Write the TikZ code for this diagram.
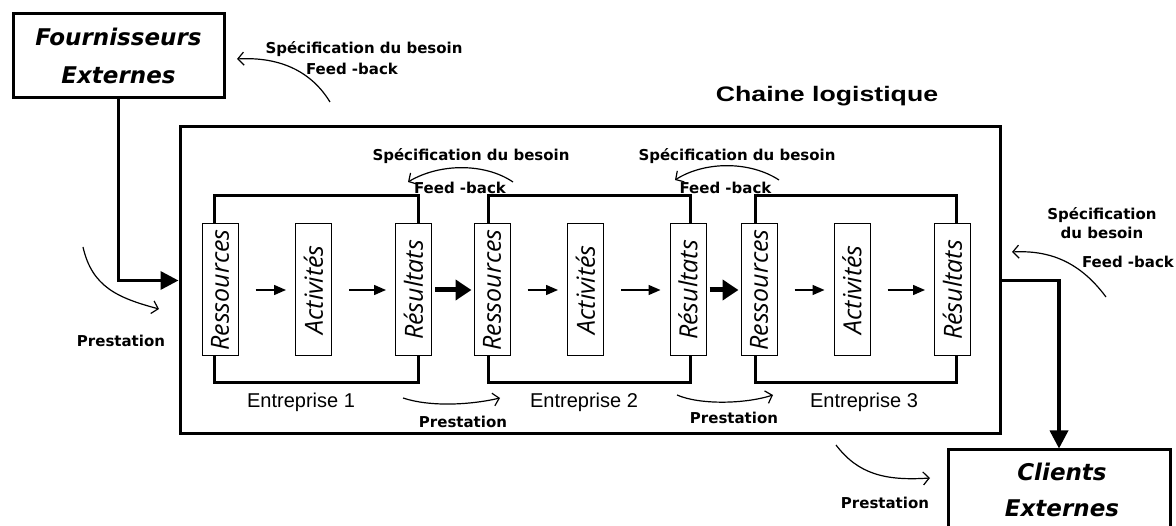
\documentclass[tikz,border=0pt]{standalone}
\usepackage{fontspec}
\usepackage{graphicx}
\setmainfont{Liberation Sans}
\newfontfamily\dvfont{DejaVu Sans}
\newfontfamily\osfont{Open Sans}
\usetikzlibrary{arrows.meta}
\begin{document}
\begin{tikzpicture}[x=1pt,y=-1pt,
  bigbox/.style={draw, line width=3pt, fill=white, inner sep=0pt},
  framebox/.style={draw, line width=3pt, inner sep=0pt, minimum height=187pt},
  cell/.style={draw, line width=1pt, fill=white, minimum width=36pt, minimum height=132pt, inner sep=0pt, font={\osfont\itshape\fontsize{25}{25}\selectfont}},
  lab/.style={font={\dvfont\bfseries\fontsize{15}{19}\selectfont}, inner sep=0pt, align=center},
  ent/.style={font={\fontsize{20}{24}\selectfont}, inner sep=0pt},
  bigtext/.style={font={\dvfont\bfseries\itshape\fontsize{23}{36}\selectfont}, align=center, inner sep=0pt},
  bigarrow/.style={line width=3.5pt, -{Triangle[length=18pt,width=18pt]}},
  midarrow/.style={line width=5pt, -{Triangle[length=16pt,width=20pt]}, shorten <=3pt, shorten >=2pt},
  smallarrow/.style={line width=1.5pt, -{Triangle[length=12pt,width=10pt]}, shorten <=17pt, shorten >=9pt},
  curvearrow/.style={line width=1.2pt, -{Straight Barb[length=6pt,width=13pt]}}
]
\useasboundingbox (0,0) rectangle (1176,526);
\fill[white] (0,0) rectangle (1176,526);

% external boxes
\node[bigbox, minimum width=211pt, minimum height=84pt, font={\dvfont\bfseries\itshape\fontsize{23}{38}\selectfont}, align=center] (fourn) at (118.5,56) {Fournisseurs\\Externes};
\node[bigbox, minimum width=222pt, minimum height=100pt] (clients) at (1059,500) {};
\node[bigtext] (clientstext) at (1062,490) {Clients\\Externes};

% outer box
\node[draw, line width=3pt, inner sep=0pt, minimum width=820pt, minimum height=307pt] (outer) at (590,280.5) {};
\node[inner sep=0pt] (title) at (827,96) {\scalebox{1.27}[1]{\bfseries\fontsize{21}{21}\selectfont Chaine logistique}};

% enterprise frames
\node[framebox, minimum width=204pt] (e1) at (316,289.5) {};
\node[framebox, minimum width=202pt] (e2) at (589,289.5) {};
\node[framebox, minimum width=201pt] (e3) at (855.5,289.5) {};

% cells
\node[cell] (r1) at (220,290) {\rotatebox{90}{Ressources}};
\node[cell] (a1) at (313.5,290) {\rotatebox{90}{Activités}};
\node[cell] (s1) at (413.5,290) {\rotatebox{90}{Résultats}};
\node[cell] (r2) at (492,290) {\rotatebox{90}{Ressources}};
\node[cell] (a2) at (585.5,290) {\rotatebox{90}{Activités}};
\node[cell] (s2) at (688,290) {\rotatebox{90}{Résultats}};
\node[cell] (r3) at (759,290) {\rotatebox{90}{Ressources}};
\node[cell] (a3) at (852,290) {\rotatebox{90}{Activités}};
\node[cell] (s3) at (952.5,290) {\rotatebox{90}{Résultats}};

% enterprise labels
\node[ent] (n1) at (301,402) {Entreprise 1};
\node[ent] (n2) at (584,402) {Entreprise 2};
\node[ent] (n3) at (864,402) {Entreprise 3};

% arrows inside enterprises
\draw[smallarrow] (r1) -- (a1);
\draw[smallarrow] (a1) -- (s1);
\draw[smallarrow] (r2) -- (a2);
\draw[smallarrow] (a2) -- (s2);
\draw[smallarrow] (r3) -- (a3);
\draw[smallarrow] (a3) -- (s3);
\draw[midarrow] (s1) -- (r2);
\draw[midarrow] (s2) -- (r3);

% external connectors
\draw[bigarrow] (fourn.south) |- (outer.west);
\draw[bigarrow] (outer.east) -| (clients.north);

% labels
\node[lab] (spec0) at (364,49) {Spécification du besoin};
\node[lab] (fb0) at (352,69) {Feed -back};
\node[lab] (spec1) at (471,156) {Spécification du besoin};
\node[lab] (fb1) at (460,188) {Feed -back};
\node[lab] (spec2) at (737,156) {Spécification du besoin};
\node[lab] (fb2) at (725.5,188) {Feed -back};
\node[lab] (spec3) at (1102,223.5) {Spécification\\du besoin};
\node[lab] (fb3) at (1128,262) {Feed -back};
\node[lab] (p0) at (121,341) {Prestation};
\node[lab] (p1) at (463,422) {Prestation};
\node[lab] (p2) at (734,418) {Prestation};
\node[lab] (p3) at (885,503) {Prestation};

% curved arrows
\coordinate (c0a) at (330,102); \coordinate (c0b) at (237,59);
\draw[curvearrow] (c0a) .. controls (308,66) and (272,57) .. (c0b);
\coordinate (c1a) at (513,182); \coordinate (c1b) at (408,182);
\draw[curvearrow] (c1a) .. controls (485,163) and (440,163) .. (c1b);
\coordinate (c2a) at (779,180); \coordinate (c2b) at (675,180);
\draw[curvearrow] (c2a) .. controls (750,161) and (705,161) .. (c2b);
\coordinate (c3a) at (1106,297); \coordinate (c3b) at (1012,252);
\draw[curvearrow] (c3a) .. controls (1080,262) and (1050,250) .. (c3b);
\coordinate (c4a) at (83,247); \coordinate (c4b) at (159,309);
\draw[curvearrow] (c4a) .. controls (92,287) and (118,298) .. (c4b);
\coordinate (c5a) at (836,445); \coordinate (c5b) at (930,478);
\draw[curvearrow] (c5a) .. controls (858,474) and (885,481) .. (c5b);
\coordinate (c6a) at (403,398); \coordinate (c6b) at (500,398);
\draw[curvearrow] (c6a) .. controls (430,407) and (470,405) .. (c6b);
\coordinate (c7a) at (677,395); \coordinate (c7b) at (773,395);
\draw[curvearrow] (c7a) .. controls (700,405) and (745,404) .. (c7b);
\end{tikzpicture}
\end{document}
